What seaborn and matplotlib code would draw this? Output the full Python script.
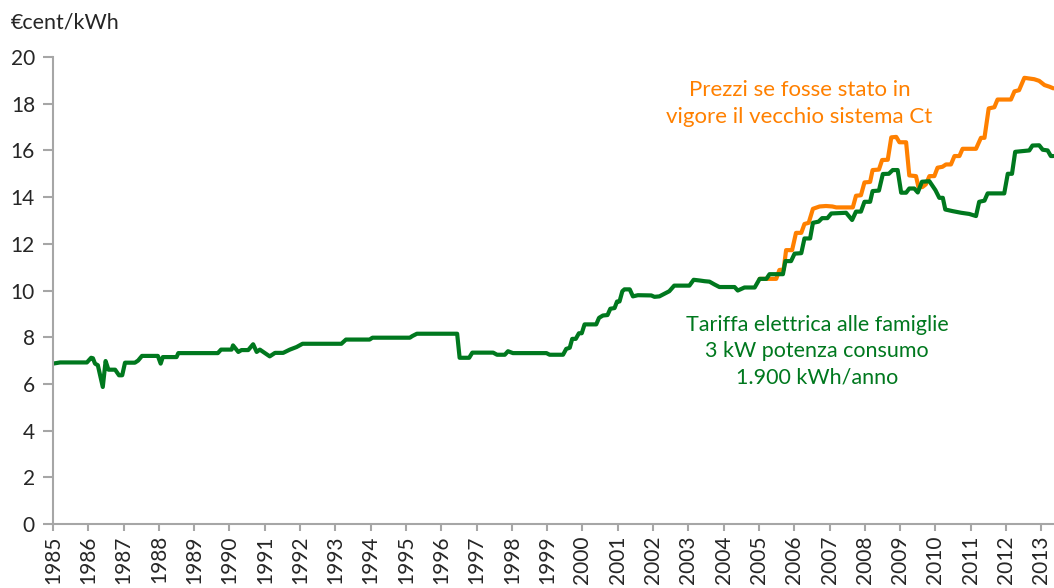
import pandas as pd
import matplotlib.pyplot as plt
import seaborn as sns

# Tariffa elettrica alle famiglie (€cent/kWh)
green_year = [
    1985.00, 1985.20, 1985.96, 1986.08, 1986.13, 1986.19, 1986.27, 1986.41, 1986.49, 1986.57,
    1986.76, 1986.87, 1986.96, 1987.04, 1987.32, 1987.41, 1987.52, 1987.97, 1988.05, 1988.11,
    1988.50, 1988.55, 1989.67, 1989.76, 1990.06, 1990.10, 1990.25, 1990.34, 1990.53, 1990.67,
    1990.77, 1990.86, 1991.14, 1991.29, 1991.52, 1991.71, 1991.90, 1992.07, 1993.17, 1993.30,
    1993.97, 1994.05, 1995.11, 1995.18, 1995.31, 1996.45, 1996.52, 1996.79, 1996.88, 1997.47,
    1997.58, 1997.80, 1997.89, 1998.03, 1998.98, 1999.07, 1999.45, 1999.54, 1999.64, 1999.71,
    1999.81, 1999.90, 1999.98, 2000.06, 2000.39, 2000.47, 2000.58, 2000.71, 2000.79, 2000.91,
    2000.98, 2001.05, 2001.13, 2001.19, 2001.34, 2001.43, 2001.57, 2001.95, 2002.04, 2002.18,
    2002.32, 2002.46, 2002.60, 2003.03, 2003.15, 2003.32, 2003.46, 2003.60, 2003.74, 2003.88,
    2004.31, 2004.40, 2004.59, 2004.88, 2005.02, 2005.21, 2005.30, 2005.68, 2005.75, 2005.91,
    2006.01, 2006.20, 2006.29, 2006.45, 2006.53, 2006.69, 2006.79, 2006.94, 2007.05, 2007.47,
    2007.64, 2007.75, 2007.89, 2007.99, 2008.15, 2008.22, 2008.40, 2008.51, 2008.68, 2008.79,
    2008.93, 2009.03, 2009.17, 2009.26, 2009.40, 2009.50, 2009.62, 2009.83, 2010.00, 2010.11,
    2010.21, 2010.28, 2010.49, 2010.73, 2010.96, 2011.15, 2011.24, 2011.39, 2011.48, 2011.95,
    2012.05, 2012.17, 2012.26, 2012.47, 2012.66, 2012.75, 2012.94, 2013.04, 2013.18, 2013.27,
    2013.34,
]
green_value = [
    6.87, 6.92, 6.92, 7.12, 7.10, 6.87, 6.80, 5.87, 6.98, 6.61,
    6.61, 6.37, 6.37, 6.91, 6.91, 7.00, 7.20, 7.20, 6.87, 7.15,
    7.15, 7.32, 7.32, 7.47, 7.47, 7.65, 7.37, 7.45, 7.45, 7.70,
    7.37, 7.47, 7.18, 7.33, 7.33, 7.47, 7.58, 7.72, 7.72, 7.90,
    7.90, 7.98, 7.98, 8.05, 8.15, 8.15, 7.12, 7.12, 7.34, 7.34,
    7.25, 7.25, 7.40, 7.32, 7.32, 7.25, 7.25, 7.50, 7.55, 7.93,
    7.93, 8.17, 8.17, 8.55, 8.55, 8.83, 8.93, 8.95, 9.22, 9.25,
    9.53, 9.53, 9.97, 10.05, 10.05, 9.75, 9.80, 9.79, 9.73, 9.75,
    9.86, 9.97, 10.21, 10.21, 10.46, 10.43, 10.40, 10.38, 10.26, 10.15,
    10.15, 10.00, 10.13, 10.13, 10.50, 10.50, 10.70, 10.70, 11.26, 11.26,
    11.58, 11.60, 12.23, 12.23, 12.90, 12.95, 13.10, 13.10, 13.30, 13.33,
    13.02, 13.38, 13.38, 13.80, 13.80, 14.26, 14.28, 14.99, 15.00, 15.16,
    15.16, 14.19, 14.19, 14.37, 14.37, 14.20, 14.66, 14.68, 14.30, 13.97,
    13.97, 13.47, 13.40, 13.33, 13.28, 13.19, 13.80, 13.85, 14.16, 14.16,
    15.00, 15.00, 15.94, 15.97, 16.00, 16.21, 16.22, 16.03, 16.00, 15.76,
    15.76,
]

# Prezzi con il vecchio sistema Ct
orange_year = [
    2005.02, 2005.49, 2005.58, 2005.70, 2005.77, 2005.94, 2006.05, 2006.20, 2006.29, 2006.41,
    2006.53, 2006.72, 2006.90, 2007.08, 2007.19, 2007.66, 2007.75, 2007.89, 2007.99, 2008.15,
    2008.22, 2008.40, 2008.49, 2008.65, 2008.75, 2008.89, 2008.98, 2009.17, 2009.26, 2009.45,
    2009.52, 2009.63, 2009.73, 2009.83, 2009.97, 2010.06, 2010.20, 2010.30, 2010.44, 2010.54,
    2010.68, 2010.77, 2011.15, 2011.29, 2011.39, 2011.51, 2011.67, 2011.76, 2012.14, 2012.24,
    2012.37, 2012.52, 2012.66, 2012.80, 2012.94, 2013.09, 2013.23, 2013.34,
]
orange_value = [
    10.50, 10.50, 10.88, 10.90, 11.73, 11.73, 12.47, 12.47, 12.85, 12.90,
    13.50, 13.60, 13.62, 13.60, 13.56, 13.56, 14.06, 14.08, 14.63, 14.65,
    15.16, 15.18, 15.59, 15.60, 16.56, 16.58, 16.35, 16.35, 14.93, 14.90,
    14.43, 14.43, 14.55, 14.90, 14.90, 15.26, 15.30, 15.40, 15.40, 15.76,
    15.76, 16.07, 16.07, 16.54, 16.54, 17.80, 17.85, 18.18, 18.18, 18.53,
    18.58, 19.11, 19.08, 19.05, 18.98, 18.80, 18.73, 18.66,
]

years = list(range(1985, 2014))
y_ticks = list(range(0, 21, 2))

green = "#00781E"
orange = "#FF8000"
axis_grey = "#A6A6A6"

sns.set_style("white")
plt.rcParams["font.family"] = ["Lato", "DejaVu Sans"]

fig = plt.figure(figsize=(10.54, 5.88), dpi=100)
ax = fig.add_axes([0.0503, 0.1088, 0.9497, 0.7942])

df_orange = pd.DataFrame({"anno": orange_year, "valore": orange_value})
df_green = pd.DataFrame({"anno": green_year, "valore": green_value})
sns.lineplot(data=df_orange, x="anno", y="valore", color=orange, lw=3, ax=ax)
sns.lineplot(data=df_green, x="anno", y="valore", color=green, lw=3, ax=ax)

ax.set_xlim(1985, 2013.36)
ax.set_ylim(0, 20)
ax.set_xticks(years)
ax.set_xticklabels([str(y) for y in years], rotation=90, fontsize=15)
ax.set_yticks(y_ticks)
ax.set_yticklabels([str(v) for v in y_ticks], fontsize=15)
ax.set_xlabel("")
ax.set_ylabel("")

for side in ["top", "right"]:
    ax.spines[side].set_visible(False)
for side in ["left", "bottom"]:
    ax.spines[side].set_color(axis_grey)
    ax.spines[side].set_linewidth(1.5)
ax.tick_params(axis="y", direction="out", length=7, width=1.5, color=axis_grey, pad=6, left=True)
ax.tick_params(axis="x", direction="out", length=5, width=1.5, color=axis_grey, pad=3, bottom=True)

fig.text(0.010, 0.962, "€cent/kWh", fontsize=15.5, ha="left", va="center")

ax.text(2006.15, 18.0, "Prezzi se fosse stato in\nvigore il vecchio sistema Ct",
        color=orange, fontsize=16, ha="center", va="center", linespacing=1.45)
ax.text(2006.65, 7.4, "Tariffa elettrica alle famiglie\n3 kW potenza consumo\n1.900 kWh/anno",
        color=green, fontsize=15.5, ha="center", va="center", linespacing=1.4)

fig.savefig("out.png", dpi=100)
